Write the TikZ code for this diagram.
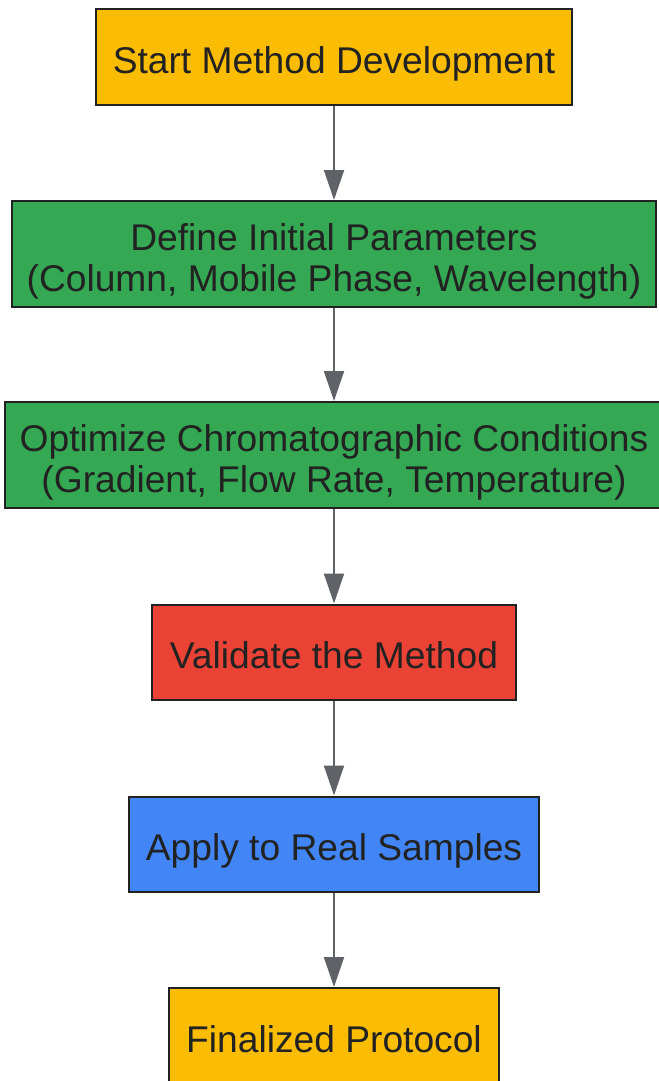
\documentclass[tikz,border=0pt]{standalone}
\usepackage{fontspec}
\setmainfont{Liberation Sans}
\usetikzlibrary{arrows.meta}
\definecolor{cyellow}{HTML}{FBBC04}
\definecolor{cgreen}{HTML}{34A853}
\definecolor{cred}{HTML}{EA4335}
\definecolor{cblue}{HTML}{4285F4}
\definecolor{cborder}{HTML}{222222}
\definecolor{ctext}{HTML}{222222}
\definecolor{carrow}{HTML}{5F6368}
\tikzset{
  stepbox/.style={draw=cborder, line width=1.5pt, inner sep=0pt, align=center,
    text=ctext, text depth=0pt, text height=25pt, font=\fontsize{27.9}{30.75}\selectfont},
  twoline/.style={text height=55.5pt},
  flow/.style={draw=carrow, line width=1.5pt, -{Triangle[length=22.5pt,width=15pt]}}
}
\begin{document}
\begin{tikzpicture}[x=0.75pt,y=-0.75pt]
\useasboundingbox (0,0) rectangle (659,1081);
\clip (0,0) rectangle (659,1081);
\node[stepbox, fill=cyellow, minimum width=357pt, minimum height=72pt] (n1) at (334,57) {Start Method Development};
\node[stepbox, twoline, fill=cgreen, minimum width=483pt, minimum height=79.5pt] (n2) at (334,254) {Define Initial Parameters\\(Column, Mobile Phase, Wavelength)};
\node[stepbox, twoline, fill=cgreen, minimum width=493.5pt, minimum height=79.5pt] (n3) at (334,455) {Optimize Chromatographic Conditions\\(Gradient, Flow Rate, Temperature)};
\node[stepbox, fill=cred, minimum width=273pt, minimum height=71.25pt] (n4) at (334,652) {Validate the Method};
\node[stepbox, fill=cblue, minimum width=307.5pt, minimum height=71.25pt] (n5) at (334,844) {Apply to Real Samples};
\node[stepbox, fill=cyellow, minimum width=247.5pt, minimum height=72pt] (n6) at (334,1036) {Finalized Protocol};
\draw[flow] (n1) -- (n2);
\draw[flow] (n2) -- (n3);
\draw[flow] (n3) -- (n4);
\draw[flow] (n4) -- (n5);
\draw[flow] (n5) -- (n6);
\end{tikzpicture}
\end{document}
